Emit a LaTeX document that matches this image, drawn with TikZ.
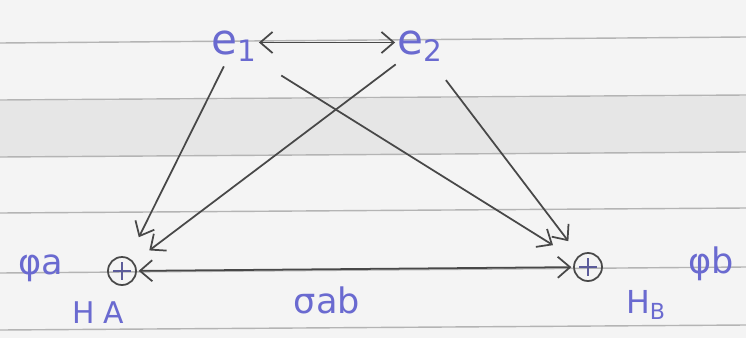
\documentclass[tikz,border=0pt]{standalone}
\usepackage{fontspec}
\setmainfont{DejaVu Sans}
\usetikzlibrary{arrows.meta}
\definecolor{ink}{HTML}{6A6AD0}
\definecolor{pen}{HTML}{484848}
\definecolor{paper}{HTML}{F4F4F4}
\definecolor{band}{HTML}{E6E6E6}
\definecolor{rulec}{HTML}{B4B4B4}
\begin{document}
\begin{tikzpicture}[x=0.02cm,y=-0.02cm,
  lbl/.style={text=ink,inner sep=0pt,font=\fontsize{20}{22}\selectfont},
  elec/.style={lbl,font=\fontsize{24}{26}\selectfont,inner sep=1pt},
  nuc/.style={circle,draw=pen,line width=1pt,minimum size=0.56cm,inner sep=0pt,
    path picture={\draw[ink!60!pen,line width=1pt]
      ([xshift=-5pt]path picture bounding box.center) -- ([xshift=5pt]path picture bounding box.center)
      ([yshift=-5pt]path picture bounding box.center) -- ([yshift=5pt]path picture bounding box.center);}},
  conn/.style={draw=pen,line width=1pt,-{Straight Barb[length=7pt,width=12pt,line width=1pt]}},
  dconn/.style={draw=pen,line width=1pt,{Straight Barb[length=7pt,width=12pt,line width=1pt]}-{Straight Barb[length=7pt,width=12pt,line width=1pt]}}
]
\fill[paper] (0,0) rectangle (746,338);
\useasboundingbox (0,0) rectangle (746,338);
\fill[band] (0,101) -- (746,96) -- (746,152) -- (0,157) -- cycle;
\foreach \yl/\yr in {43/37,100/95,157/152,213/208,273/267,330/325}
  \draw[rulec,line width=0.8pt] (0,\yl) -- (746,\yr);

% electrons
\node[elec] (e1) at (234,46) {e\textsubscript{1}};
\node[elec] (e2) at (420,46) {e\textsubscript{2}};
% nuclei
\node[nuc] (HA) at (122,271) {};
\node[nuc] (HB) at (588,267) {};
% labels
\node[lbl] (phia) at (41,268) {φa};
\node[lbl,font=\fontsize{17}{19}\selectfont] (ha) at (98,313) {H\hspace{5pt}A};
\node[lbl,font=\fontsize{18}{20}\selectfont] (hb) at (646,305) {H\textsubscript{B}};
\node[lbl] (phib) at (711,264) {φb};
\node[lbl] (rab) at (327,300) {σab};

% connectors
\draw[dconn] ([yshift=2pt]e1.east) -- ([yshift=2pt]e2.west);
\draw[conn,shorten <=2pt,shorten >=13pt] (e1) -- (HA);
\draw[conn,shorten <=1pt,shorten >=11pt] (e2) -- (HA);
\draw[conn,shorten <=15pt,shorten >=15pt] (e1) -- (HB);
\draw[conn,shorten <=12pt,shorten >=10pt] (e2) -- (HB);
\draw[dconn,shorten <=1pt,shorten >=1pt] (HA) -- (HB);
\end{tikzpicture}
\end{document}
